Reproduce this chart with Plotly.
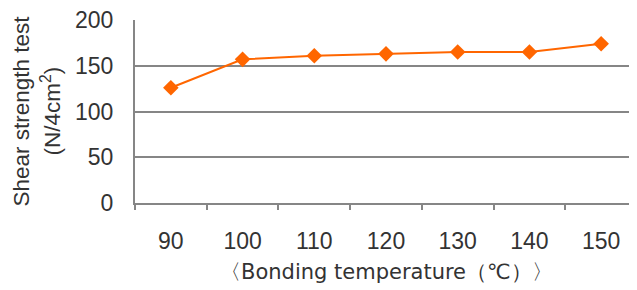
import plotly.graph_objects as go

temperatures = ["90", "100", "110", "120", "130", "140", "150"]
shear_strength = [126, 157, 161, 163, 165, 165, 174]
y_ticks = [0, 50, 100, 150, 200]

TICK_FONT = "Liberation Sans"
XTITLE_FONT = "DejaVu Sans"
GRAY = "#868686"
ORANGE = "#FF6600"
TEXT = "#333333"

fig = go.Figure()
fig.add_trace(go.Scatter(
    x=temperatures, y=shear_strength, mode="lines+markers",
    line=dict(color=ORANGE, width=2),
    marker=dict(symbol="diamond", size=12, color=ORANGE),
    showlegend=False,
))

fig.update_layout(
    width=629, height=282,
    margin=dict(l=127, r=0, t=12, b=87),
    paper_bgcolor="white", plot_bgcolor="white",
    font=dict(family=TICK_FONT, color=TEXT),
    xaxis=dict(
        type="category", range=[-0.5, 6.5], automargin=False,
        showline=True, linecolor=GRAY, linewidth=2,
        ticks="outside", tickson="boundaries", ticklen=5, tickcolor=GRAY, tickwidth=1.5,
        showgrid=False, tickfont=dict(size=23, family=TICK_FONT, color=TEXT),
        ticklabelstandoff=16,
    ),
    yaxis=dict(
        range=[0, 200], tickvals=y_ticks, automargin=False,
        showline=True, linecolor=GRAY, linewidth=2,
        showgrid=True, gridcolor=GRAY, gridwidth=1.5,
        ticks="", tickfont=dict(size=23, family=TICK_FONT, color=TEXT),
        ticklabelstandoff=15, zeroline=False, ticklabeloverflow="allow",
    ),
    annotations=[
        dict(
            text="Shear strength test",
            xref="paper", yref="paper", x=(21 - 135) / 502, y=0.5,
            xanchor="center", yanchor="middle", textangle=-90, showarrow=False,
            font=dict(size=22.5, family=TICK_FONT, color=TEXT),
        ),
        dict(
            text="(N/4cm<sup>2</sup>)",
            xref="paper", yref="paper", x=(50 - 135) / 502, y=0.5,
            xanchor="center", yanchor="middle", textangle=-90, showarrow=False,
            font=dict(size=22.5, family=TICK_FONT, color=TEXT),
        ),
        dict(
            text="〈Bonding temperature（℃）〉",
            xref="paper", yref="paper", x=(386 - 135) / 502, y=-(272 - 203) / 183,
            xanchor="center", yanchor="middle", showarrow=False,
            font=dict(size=21, family=XTITLE_FONT, color=TEXT),
        ),
    ],
)

fig.write_html("out.html")
